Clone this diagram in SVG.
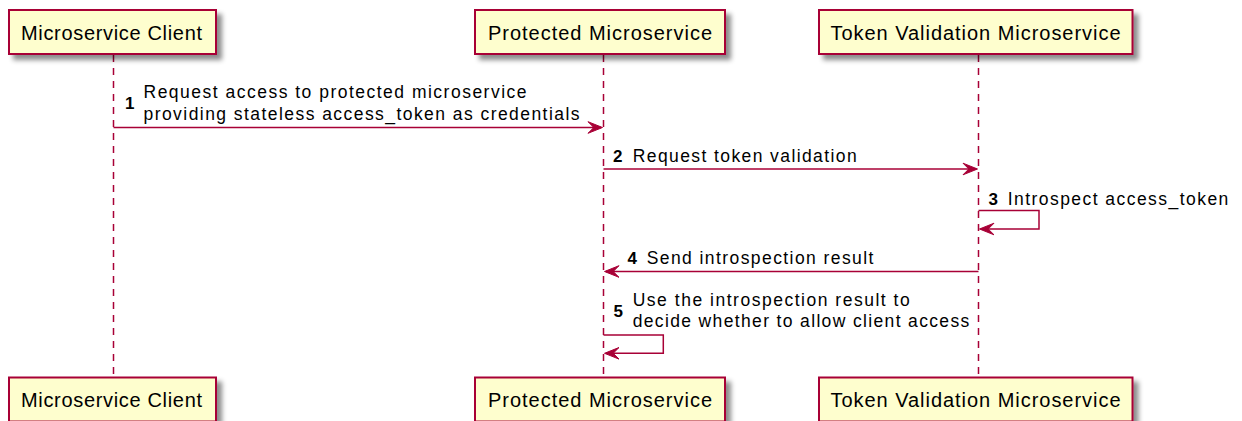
<svg xmlns="http://www.w3.org/2000/svg" width="1242" height="421" viewBox="0 0 1242 421">
<style>
.box{fill:#FEFECE;stroke:#A80036;stroke-width:2;filter:url(#sh)}
.pt{font-family:"Liberation Sans",Arial,sans-serif;font-size:20px;fill:#000;text-anchor:middle}
.life{stroke:#A80036;stroke-width:1.5;stroke-dasharray:7,6;fill:none}
.msg{stroke:#A80036;stroke-width:1.5;fill:none}
.head{fill:#A80036;stroke:#A80036;stroke-width:1}
.mt{font-family:"Liberation Sans",Arial,sans-serif;font-size:17.5px;fill:#000}
.num{font-family:"Liberation Sans",Arial,sans-serif;font-size:17px;font-weight:bold;fill:#000}
</style>
<defs>
<filter id="sh" x="-10%" y="-20%" width="130%" height="160%">
<feGaussianBlur in="SourceAlpha" stdDeviation="2.5"/>
<feOffset dx="5" dy="5" result="b"/>
<feColorMatrix in="b" type="matrix" values="0 0 0 0 0  0 0 0 0 0  0 0 0 0 0  0 0 0 0.45 0" result="c"/>
<feMerge><feMergeNode in="c"/><feMergeNode in="SourceGraphic"/></feMerge>
</filter>
</defs>
<rect width="1242" height="421" fill="#FFFFFF"/>
<g id="lifelines">
<line class="life" x1="113.5" y1="55" x2="113.5" y2="377"/>
<line class="life" x1="603.5" y1="55" x2="603.5" y2="377"/>
<line class="life" x1="978.5" y1="55" x2="978.5" y2="377"/>
</g>
<g id="p-client-top"><rect class="box" x="9" y="10" width="207" height="44"/><text class="pt" x="111.5" y="39.5" textLength="181" lengthAdjust="spacing">Microservice Client</text></g>
<g id="p-protected-top"><rect class="box" x="475" y="10" width="250" height="44"/><text class="pt" x="600" y="39.5" textLength="224" lengthAdjust="spacing">Protected Microservice</text></g>
<g id="p-token-top"><rect class="box" x="819" y="10" width="313.5" height="44"/><text class="pt" x="975.5" y="39.5" textLength="290" lengthAdjust="spacing">Token Validation Microservice</text></g>
<g id="p-client-bottom"><rect class="box" x="9" y="377.5" width="207" height="44"/><text class="pt" x="111.5" y="407" textLength="181" lengthAdjust="spacing">Microservice Client</text></g>
<g id="p-protected-bottom"><rect class="box" x="475" y="377.5" width="250" height="44"/><text class="pt" x="600" y="407" textLength="224" lengthAdjust="spacing">Protected Microservice</text></g>
<g id="p-token-bottom"><rect class="box" x="819" y="377.5" width="313.5" height="44"/><text class="pt" x="975.5" y="407" textLength="290" lengthAdjust="spacing">Token Validation Microservice</text></g>
<g id="connectors">
<line class="msg" x1="113.5" y1="127.5" x2="601" y2="127.5"/>
<polygon class="head" points="602.5,127.5 588,121.7 593.8,127.5 588,133.3"/>
<line class="msg" x1="603.5" y1="169" x2="976" y2="169"/>
<polygon class="head" points="977.5,169 963,163.2 968.8,169 963,174.8"/>
<polyline class="msg" points="978.5,210.5 1039,210.5 1039,229 981,229"/>
<polygon class="head" points="979.5,229 994,223.2 988.2,229 994,234.8"/>
<line class="msg" x1="978.5" y1="271.5" x2="606" y2="271.5"/>
<polygon class="head" points="604.5,271.5 619,265.7 613.2,271.5 619,277.3"/>
<polyline class="msg" points="603.5,335 663.3,335 663.3,353.3 606,353.3"/>
<polygon class="head" points="604.5,353.3 619,347.5 613.2,353.3 619,359.1"/>
</g>
<g id="labels">
<text class="num" x="125" y="109">1</text>
<text class="mt" x="143.5" y="98.3" textLength="383" lengthAdjust="spacing">Request access to protected microservice</text>
<text class="mt" x="143.5" y="119.8" textLength="436" lengthAdjust="spacing">providing stateless access_token as credentials</text>
<text class="num" x="613" y="162">2</text>
<text class="mt" x="632.7" y="162" textLength="224" lengthAdjust="spacing">Request token validation</text>
<text class="num" x="988.5" y="204.5">3</text>
<text class="mt" x="1007.7" y="204.5" textLength="220.6" lengthAdjust="spacing">Introspect access_token</text>
<text class="num" x="627.5" y="264">4</text>
<text class="mt" x="646.7" y="264" textLength="226.7" lengthAdjust="spacing">Send introspection result</text>
<text class="num" x="613.5" y="316.7">5</text>
<text class="mt" x="632.7" y="305.7" textLength="277" lengthAdjust="spacing">Use the introspection result to</text>
<text class="mt" x="632.7" y="327.3" textLength="336.6" lengthAdjust="spacing">decide whether to allow client access</text>
</g>
</svg>
